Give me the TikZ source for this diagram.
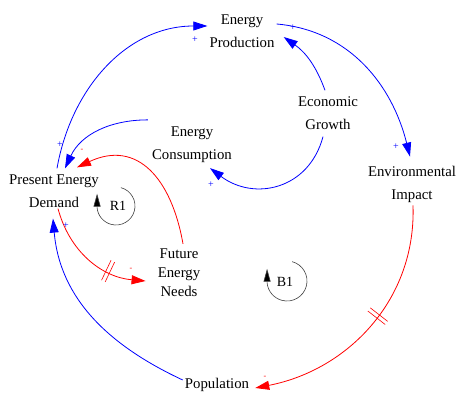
\documentclass[tikz,border=0pt]{standalone}
\usepackage{fontspec}
\setmainfont{Liberation Serif}
\usetikzlibrary{arrows.meta,decorations.markings}

\begin{document}
\begin{tikzpicture}[x=1pt, y=1pt,
    var/.style={align=center, inner sep=2pt, font=\fontsize{14.8}{23}\selectfont},
    link/.style={line width=0.8pt, -{Triangle[length=14pt,width=9pt]}},
    pos link/.style={link, draw=blue},
    neg link/.style={link, draw=red},
    delay/.style={postaction={decorate, decoration={markings,
        mark=at position #1 with {\draw[-, red, line width=0.6pt]
          (-2pt,-11pt) -- (-2pt,11pt) (2pt,-11pt) -- (2pt,11pt);}}}},
    plus/.style={text=blue, inner sep=0pt, font=\fontsize{10}{10}\selectfont},
    minus/.style={text=red, inner sep=0pt, font=\fontsize{8}{8}\selectfont},
    loopname/.style={inner sep=1pt, font=\fontsize{14}{14}\selectfont},
    loopline/.style={draw=black!75, line width=0.6pt, -{Triangle[length=13pt,width=7pt,fill=black]}}]
    \useasboundingbox (0,0) rectangle (457,393);

    % variables
    \node[var] (prod) at (242,362) {Energy\\Production};
    \node[var] (grow) at (328,280) {Economic\\Growth};
    \node[var] (cons) at (192,248) {Energy\\Consumption};
    \node[var] (env) at (412,209) {Environmental\\Impact};
    \node[var] (dem) at (54,202) {Present Energy\\Demand};
    \node[var, font=\fontsize{14.8}{19}\selectfont] (fut) at (179,120) {Future\\Energy\\Needs};
    \node[var] (pop) at (217,8) {Population};

    % positive links
    \draw[pos link] ([shift={(3,4)}]dem.north) to[out=80,in=180] ([yshift=5]prod.west);
    \draw[pos link] ([shift={(-2,5)}]cons.north west) to[out=180,in=65] ([shift={(11,4)}]dem.north);
    \draw[pos link] ([yshift=5]pop.west) to[out=155,in=-85] ([shift={(-1,-9)}]dem.south);
    \draw[pos link] ([yshift=7]prod.east) to[out=-5,in=104] ([shift={(-2,7)}]env.north);
    \draw[pos link] ([shift={(-3,4)}]grow.north) to[out=110,in=-35] ([shift={(7,-6)}]prod.east);
    \draw[pos link] ([shift={(-5,-5)}]grow.south) to[out=-105,in=-37,looseness=1.2] ([shift={(18,-3)}]cons.south);

    % negative links
    \draw[neg link] ([shift={(4,3)}]fut.north) to[out=100,in=25,looseness=1.3] ([shift={(23,5)}]dem.north);
    \draw[neg link, delay=0.68] ([shift={(4,1)}]dem.south) to[out=-75,in=175] ([shift={(-10,-8)}]fut.west);
    \draw[neg link, delay=0.45] ([shift={(1,-1)}]env.south) to[out=-88,in=11] ([shift={(4,-3)}]pop.east);

    % polarities
    \node[plus] (s1) at (195,353) {+};
    \node[plus] (s2) at (60,248) {+};
    \node[plus] (s3) at (293,365) {+};
    \node[plus] (s4) at (396,246) {+};
    \node[plus] (s5) at (211,208) {+};
    \node[plus] (s6) at (66,167) {+};
    \node[minus] (s7) at (82,243) {-};
    \node[minus] (s8) at (131,124) {-};
    \node[minus] (s9) at (265,16) {-};

    % loop markers
    \node[loopname] (r1) at (118,187) {R1};
    \draw[loopline] ([xshift=-2]r1.center) ++(75:19) arc[start angle=75, end angle=-175, radius=19] -- ++(0,14);
    \node[loopname] (b1) at (285,111) {B1};
    \draw[loopline] ([shift={(2,1)}]b1.center) ++(75:20) arc[start angle=75, end angle=-175, radius=20] -- ++(0,14);
\end{tikzpicture}
\end{document}
